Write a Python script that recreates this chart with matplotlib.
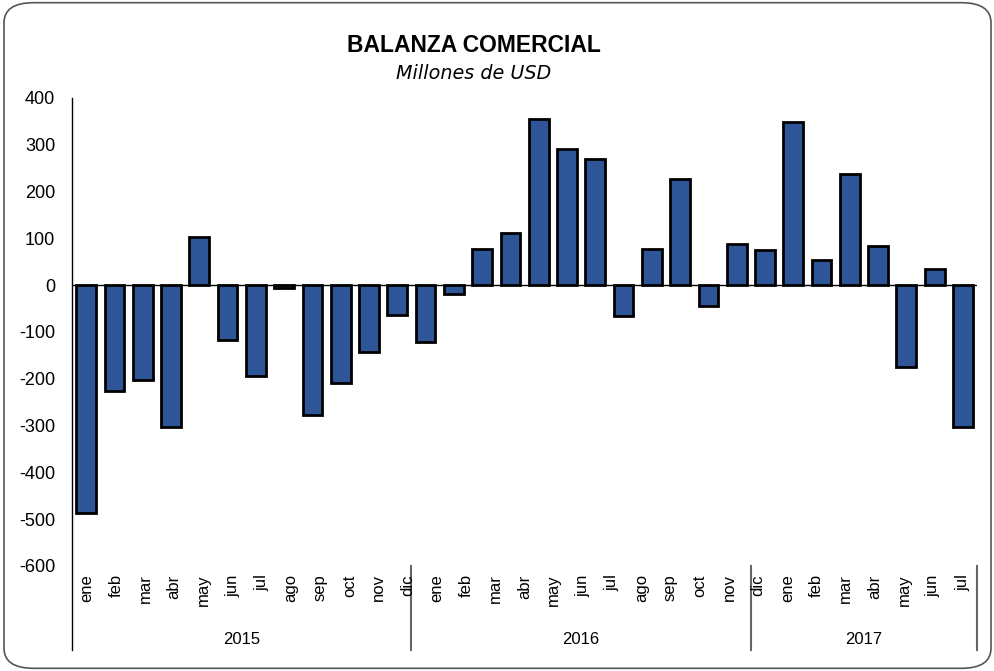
import matplotlib.pyplot as plt
import numpy as np
from matplotlib.patches import FancyBboxPatch

# valores (millones de USD), 32 barras como en el original
valores = [-486, -227, -203, -302, 104, -118, -194, -5, -278, -210, -142, -63,
           -121, -19, 78, 112, 356, 292, 269, -65, 77, 227, -44, 87,
           76, 348, 53, 237, 83, -174, 35, -302]
meses = ['ene', 'feb', 'mar', 'abr', 'may', 'jun', 'jul', 'ago', 'sep', 'oct', 'nov', 'dic',
         'ene', 'feb', 'mar', 'abr', 'may', 'jun', 'jul', 'ago', 'sep', 'oct', 'nov', 'dic',
         'ene', 'feb', 'mar', 'abr', 'may', 'jun', 'jul']
anios = ['2015', '2016', '2017']
anio_centro = [5.5, 17.5, 27.5]
cortes = [11.5, 23.5, 31.5]
yticks = [400, 300, 200, 100, 0, -100, -200, -300, -400, -500, -600]

plt.rcParams['font.family'] = ['Liberation Sans', 'DejaVu Sans']

fig = plt.figure(figsize=(9.95, 6.71), dpi=100)
fig.patches.append(FancyBboxPatch((0.004, 0.004), 0.992, 0.992, boxstyle='round,pad=0,rounding_size=0.03',
                                  transform=fig.transFigure, fill=False, edgecolor='#555555', linewidth=1.2))

ax = fig.add_axes([0.0724, 0.1565, 0.9096, 0.6975])
x = np.arange(len(valores))
ax.bar(x, valores, width=0.7, color='#2E5597', edgecolor='black', linewidth=2, zorder=3)
ax.axhline(0, color='black', linewidth=1, zorder=2)
ax.set_xlim(-0.5, len(valores) - 0.5)
ax.set_ylim(-600, 400)
ax.set_yticks(yticks)
ax.set_yticklabels([str(v) for v in yticks], fontsize=13)
ax.tick_params(axis='y', length=0, pad=12)
ax.set_xticks([])
for s in ax.spines.values():
    s.set_visible(False)

# lineas del eje y separadores de anios
ax.plot([-0.5, -0.5], [1, -0.18], transform=ax.get_xaxis_transform(), color='black', lw=1, clip_on=False)
for c in cortes:
    ax.plot([c, c], [0, -0.18], transform=ax.get_xaxis_transform(), color='#666666', lw=1.5, clip_on=False)
for a, c in zip(anios, anio_centro):
    ax.text(c, -0.156, a, transform=ax.get_xaxis_transform(), ha='center', va='center', fontsize=12)

# etiquetas de meses (31) repartidas en el ancho del grafico
ax2 = ax.twiny()
ax2.set_xlim(0, len(meses))
ax2.set_xticks(np.arange(len(meses)) + 0.5)
ax2.set_xticklabels(meses, rotation=90, fontsize=12, va='top')
ax2.xaxis.set_ticks_position('bottom')
ax2.xaxis.set_label_position('bottom')
ax2.tick_params(axis='x', length=0, pad=6)
for s in ax2.spines.values():
    s.set_visible(False)

fig.text(0.476, 0.932, 'BALANZA COMERCIAL', ha='center', va='center', fontsize=16.5, fontweight='bold',
         family=['Liberation Sans Narrow', 'Liberation Sans'])
fig.text(0.476, 0.891, 'Millones de USD', ha='center', va='center', fontsize=13.8, style='italic',
         family=['DejaVu Sans'])

fig.savefig('out.png', dpi=100)
